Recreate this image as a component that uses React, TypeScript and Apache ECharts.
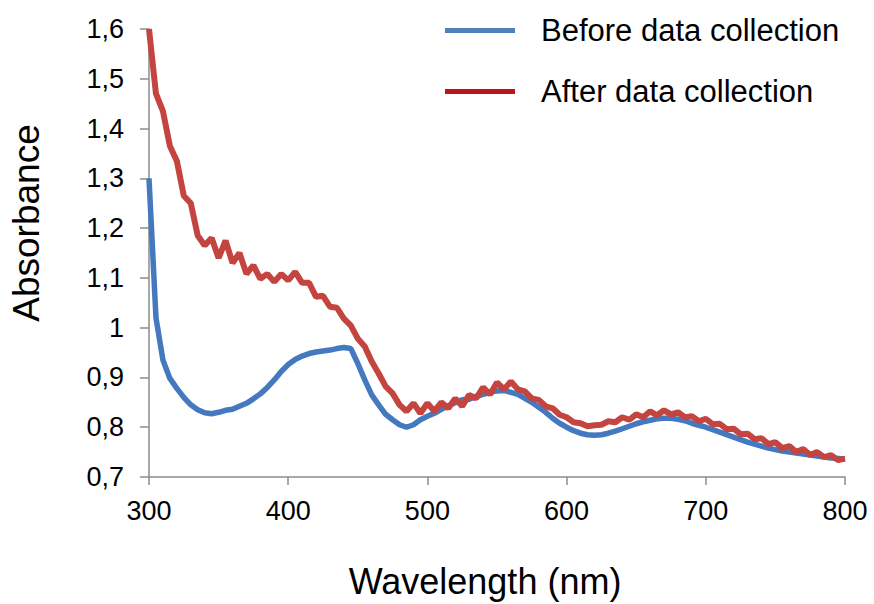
import React, { useEffect, useRef } from "react";
import * as echarts from "echarts";

const wavelengths = [
  300, 305, 310, 315, 320, 325, 330, 335, 340, 345, 350, 355, 360, 365, 370, 375, 380, 385, 390, 395,
  400, 405, 410, 415, 420, 425, 430, 435, 440, 445, 450, 455, 460, 465, 470, 475, 480, 485, 490, 495,
  500, 505, 510, 515, 520, 525, 530, 535, 540, 545, 550, 555, 560, 565, 570, 575, 580, 585, 590, 595,
  600, 605, 610, 615, 620, 625, 630, 635, 640, 645, 650, 655, 660, 665, 670, 675, 680, 685, 690, 695,
  700, 705, 710, 715, 720, 725, 730, 735, 740, 745, 750, 755, 760, 765, 770, 775, 780, 785, 790, 795,
  800,
];

const beforeAbs = [
  1.3, 1.02, 0.935, 0.898, 0.878, 0.86, 0.845, 0.835, 0.829, 0.827, 0.83, 0.834, 0.836, 0.842, 0.848, 0.857, 0.867, 0.88, 0.895, 0.912,
  0.926, 0.936, 0.943, 0.948, 0.951, 0.953, 0.955, 0.958, 0.96, 0.958, 0.928, 0.895, 0.865, 0.845, 0.826, 0.815, 0.805, 0.8, 0.805, 0.815,
  0.822, 0.828, 0.836, 0.843, 0.849, 0.855, 0.856, 0.862, 0.866, 0.87, 0.873, 0.874, 0.87, 0.866, 0.858, 0.85, 0.84, 0.83, 0.818, 0.808,
  0.8, 0.793, 0.788, 0.785, 0.784, 0.785, 0.788, 0.792, 0.797, 0.802, 0.807, 0.811, 0.814, 0.817, 0.818, 0.818, 0.816, 0.813, 0.808, 0.804,
  0.8, 0.795, 0.79, 0.785, 0.78, 0.775, 0.77, 0.766, 0.762, 0.758, 0.755, 0.752, 0.75, 0.748, 0.746, 0.744, 0.742, 0.74, 0.738, 0.737,
  0.736,
];

const afterAbs = [
  1.6, 1.47, 1.435, 1.365, 1.335, 1.265, 1.25, 1.185, 1.165, 1.18, 1.14, 1.175, 1.13, 1.15, 1.108, 1.125, 1.098, 1.108, 1.092, 1.108,
  1.095, 1.112, 1.09, 1.09, 1.062, 1.064, 1.042, 1.04, 1.018, 1.004, 0.978, 0.962, 0.932, 0.908, 0.882, 0.868, 0.845, 0.832, 0.848, 0.828,
  0.848, 0.832, 0.85, 0.838, 0.858, 0.842, 0.865, 0.858, 0.88, 0.866, 0.89, 0.876, 0.892, 0.876, 0.872, 0.858, 0.855, 0.842, 0.838, 0.825,
  0.82, 0.81, 0.808, 0.802, 0.804, 0.805, 0.812, 0.81, 0.82, 0.815, 0.826, 0.82, 0.832, 0.824, 0.834, 0.826, 0.83, 0.82, 0.822, 0.812,
  0.817, 0.806, 0.807, 0.796, 0.797, 0.786, 0.787, 0.776, 0.778, 0.766, 0.77, 0.758, 0.762, 0.75, 0.756, 0.744, 0.75, 0.74, 0.744, 0.734,
  0.737,
];

const seriesNames = ["Before data collection", "After data collection"];

const FONT = "'Liberation Sans', Arial, Helvetica, sans-serif";

export default function App() {
  const ref = useRef<HTMLDivElement>(null);

  useEffect(() => {
    if (!ref.current) return;
    const chart = echarts.init(ref.current, undefined, { renderer: "svg" });
    const fmt = (v: number) => String(Number(v.toFixed(1))).replace(".", ",");
    chart.setOption({
      animation: false,
      backgroundColor: "#ffffff",
      textStyle: { fontFamily: FONT, color: "#000" },
      grid: { left: 147, right: 29, top: 29, bottom: 126, containLabel: false },
      legend: {
        orient: "vertical",
        left: 440,
        top: 10,
        itemWidth: 70,
        itemHeight: 5,
        itemGap: 30,
        icon: "rect",
        textStyle: { fontFamily: FONT, fontSize: 31, lineHeight: 31, color: "#000", padding: [0, 0, 0, 21] },
        data: [
          { name: seriesNames[0], itemStyle: { color: "#4f81bd" } },
          { name: seriesNames[1], itemStyle: { color: "#c0141a" } },
        ],
      },
      xAxis: {
        type: "value",
        min: 300,
        max: 800,
        interval: 100,
        name: "Wavelength (nm)",
        nameLocation: "middle",
        nameGap: 86,
        nameTextStyle: { fontFamily: FONT, fontSize: 36, color: "#000", padding: [0, 24, 0, 0] },
        axisLine: { lineStyle: { color: "#8c8c8c", width: 1.5 } },
        axisTick: { show: true, length: 8, lineStyle: { color: "#8c8c8c", width: 1.5 } },
        axisLabel: { fontFamily: FONT, fontSize: 27, color: "#000", margin: 20 },
        splitLine: { show: false },
      },
      yAxis: {
        type: "value",
        min: 0.7,
        max: 1.6,
        interval: 0.1,
        name: "Absorbance",
        nameLocation: "middle",
        nameGap: 104,
        nameRotate: 90,
        nameTextStyle: { fontFamily: FONT, fontSize: 37, color: "#000", padding: [0, 0, 0, 60] },
        axisLine: { show: true, lineStyle: { color: "#8c8c8c", width: 1.5 } },
        axisTick: { show: true, length: 9, lineStyle: { color: "#8c8c8c", width: 1.5 } },
        axisLabel: { fontFamily: FONT, fontSize: 27, color: "#000", margin: 25, formatter: fmt },
        splitLine: { show: false },
      },
      series: [
        {
          name: seriesNames[0],
          type: "line",
          showSymbol: false,
          symbol: "none",
          data: wavelengths.map((w, i) => [w, beforeAbs[i]]),
          lineStyle: { color: "#4479bf", width: 5.5 },
          itemStyle: { color: "#4479bf" },
          z: 2,
        },
        {
          name: seriesNames[1],
          type: "line",
          showSymbol: false,
          symbol: "none",
          data: wavelengths.map((w, i) => [w, afterAbs[i]]),
          lineStyle: { color: "#c4443f", width: 6 },
          itemStyle: { color: "#c4443f" },
          z: 3,
        },
      ],
    });
    return () => chart.dispose();
  }, []);

  return (
    <div
      ref={ref}
      style={{ position: "fixed", left: 0, top: 0, width: 874, height: 604, background: "#fff" }}
    />
  );
}
